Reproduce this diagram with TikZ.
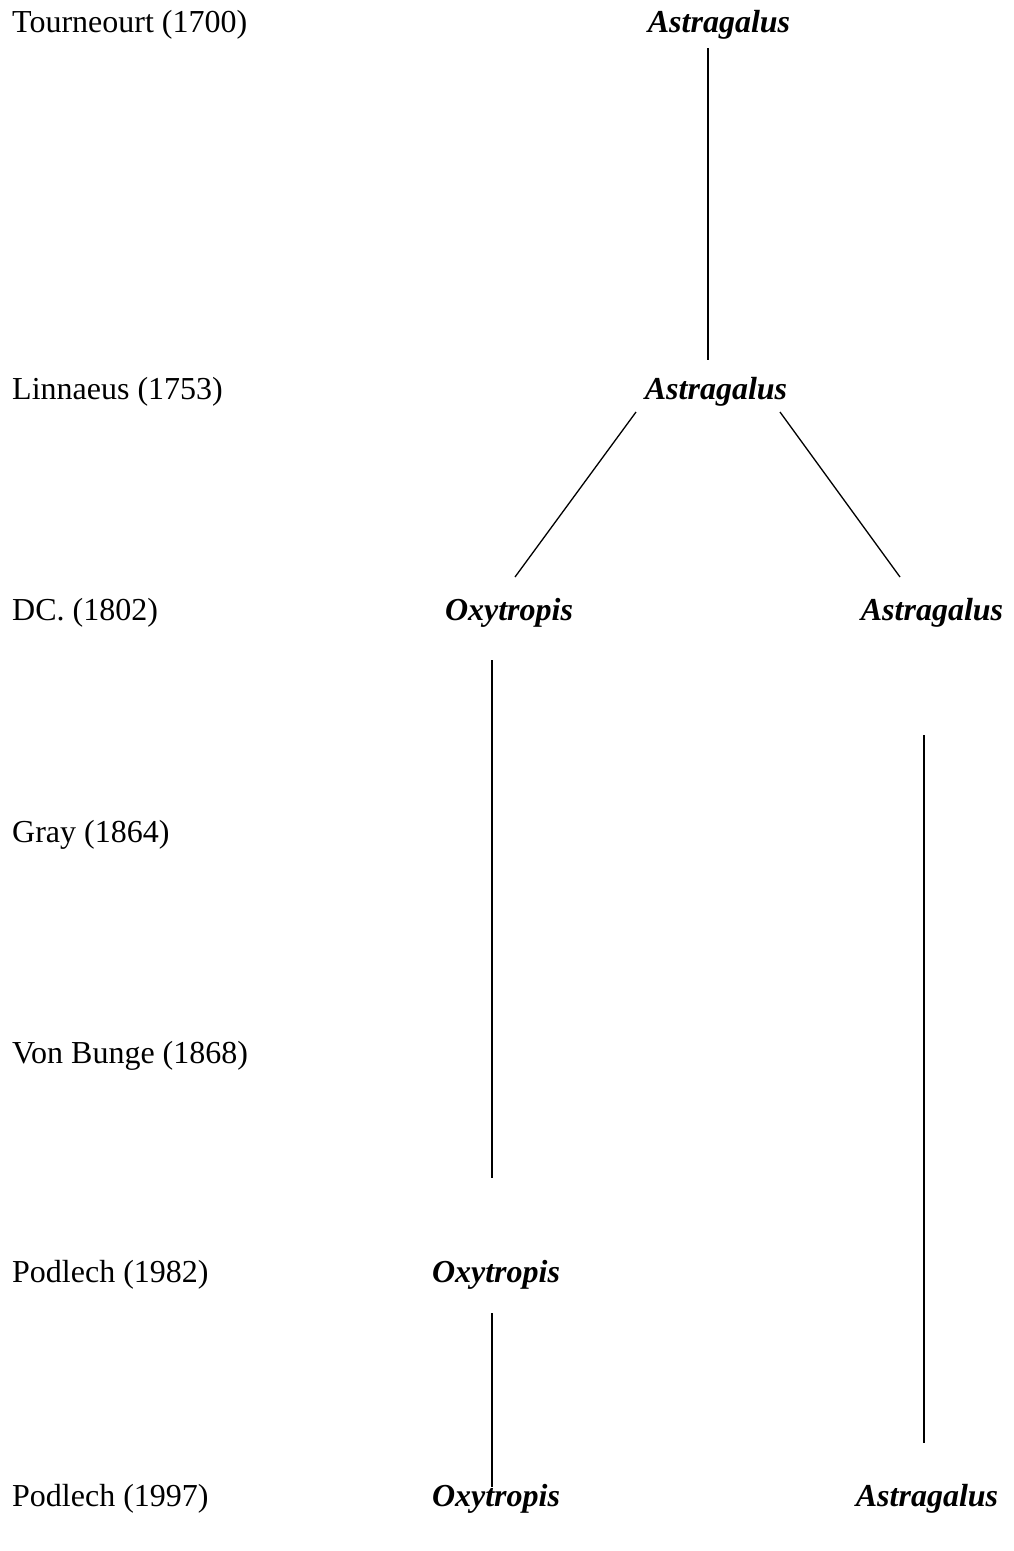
\documentclass[tikz,border=0pt]{standalone}
\usepackage{fontspec}
\setmainfont{Liberation Serif}
\begin{document}
\begin{tikzpicture}[x=1pt,y=-1pt,
  lbl/.style={anchor=base west,inner sep=0pt,font=\fontsize{32}{38}\selectfont},
  taxon/.style={anchor=base,inner sep=0pt,font=\fontsize{32}{38}\selectfont\bfseries\itshape},
  link/.style={draw=black,line width=1.3pt}]
\useasboundingbox (0,0) rectangle (1013,1551);
% year labels
\node[lbl] (l1) at (12,32) {Tourneourt (1700)};
\node[lbl] (l2) at (12,399) {Linnaeus (1753)};
\node[lbl] (l3) at (12,620) {DC. (1802)};
\node[lbl] (l4) at (12,842) {Gray (1864)};
\node[lbl] (l5) at (12,1063) {Von Bunge (1868)};
\node[lbl] (l6) at (12,1282) {Podlech (1982)};
\node[lbl] (l7) at (12,1506) {Podlech (1997)};
% taxa
\node[taxon] (a1) at (719,32) {Astragalus};
\node[taxon] (a2) at (716,399) {Astragalus};
\node[taxon] (o3) at (509,620) {Oxytropis};
\node[taxon] (a3) at (932,620) {Astragalus};
\node[taxon] (o6) at (496,1282) {Oxytropis};
\node[taxon] (o7) at (496,1506) {Oxytropis};
\node[taxon] (a7) at (927,1506) {Astragalus};
% connector end points
\coordinate (p1a) at (708,48);
\coordinate (p1b) at (708,360);
\coordinate (p2a) at (636,412);
\coordinate (p2b) at (515,577);
\coordinate (p3a) at (780,412);
\coordinate (p3b) at (900,577);
\coordinate (p4a) at (492,660);
\coordinate (p4b) at (492,1178);
\coordinate (p5a) at (924,735);
\coordinate (p5b) at (924,1443);
\coordinate (p6a) at (492,1313);
\coordinate (p6b) at (492,1487);
% connectors
\draw[link] (p1a) -- (p1b);
\draw[link] (p2a) -- (p2b);
\draw[link] (p3a) -- (p3b);
\draw[link] (p4a) -- (p4b);
\draw[link] (p5a) -- (p5b);
\draw[link] (p6a) -- (p6b);
\end{tikzpicture}
\end{document}
